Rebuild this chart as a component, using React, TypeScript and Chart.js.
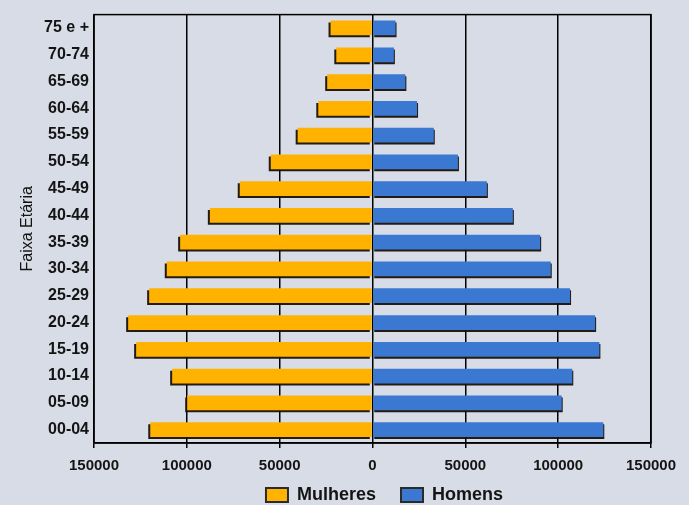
import React, { useEffect, useRef } from "react";
import { Chart, registerables } from "chart.js";

Chart.register(...registerables);

const ageGroups = [
  "75 e +", "70-74", "65-69", "60-64", "55-59", "50-54", "45-49", "40-44",
  "35-39", "30-34", "25-29", "20-24", "15-19", "10-14", "05-09", "00-04",
];
const mulheres = [
  22600, 19500, 24400, 29200, 40300, 54800, 71500, 87600,
  103600, 110800, 120300, 131600, 127300, 107900, 99800, 119700,
];
const homens = [
  12400, 11500, 17700, 24000, 33000, 46000, 61600, 75600,
  90300, 96000, 106400, 119900, 122200, 107600, 101900, 124300,
];
const xMin = -150000;
const xMax = 150000;
const xStep = 50000;

const YELLOW = "#FFB300";
const BLUE = "#3A78D2";
const BG = "#D8DCE6";
const INK = "#141414";

const shadowPlugin = {
  id: "barShadow",
  beforeDatasetDraw(chart: any, args: any) {
    const ctx = chart.ctx;
    ctx.save();
    ctx.shadowColor = "rgba(25,15,5,0.95)";
    ctx.shadowBlur = 0;
    ctx.shadowOffsetX = args.index === 0 ? -2 : 1;
    ctx.shadowOffsetY = 2;
  },
  afterDatasetDraw(chart: any) {
    chart.ctx.restore();
  },
};

const framePlugin = {
  id: "frame",
  afterLayout(chart: any) {
    const lg = chart.legend;
    if (lg) {
      lg.left += 12;
      lg.right += 12;
      lg.top -= 18;
      lg.height = 56;
      lg.bottom = lg.top + 56;
    }
  },
  afterDraw(chart: any) {
    const { ctx, chartArea } = chart;
    ctx.save();
    ctx.strokeStyle = "#000";
    ctx.lineWidth = 1.5;
    ctx.strokeRect(chartArea.left, chartArea.top, chartArea.right - chartArea.left, chartArea.bottom - chartArea.top);
    ctx.restore();
  },
};

export default function App() {
  const ref = useRef<HTMLCanvasElement | null>(null);

  useEffect(() => {
    if (!ref.current) return;
    const chart = new Chart(ref.current, {
      type: "bar",
      data: {
        labels: ageGroups,
        datasets: [
          {
            label: "Mulheres",
            data: mulheres.map((v) => -v),
            backgroundColor: YELLOW,
            borderWidth: 0,
            categoryPercentage: 1,
            barPercentage: 0.55,
          },
          {
            label: "Homens",
            data: homens,
            backgroundColor: BLUE,
            borderWidth: 0,
            categoryPercentage: 1,
            barPercentage: 0.55,
          },
        ],
      },
      options: {
        indexAxis: "y",
        animation: false,
        responsive: false,
        maintainAspectRatio: false,
        layout: { padding: { top: 12, right: 38, left: 0, bottom: 0 } },
        scales: {
          x: {
            type: "linear",
            stacked: true,
            min: xMin,
            max: xMax,
            z: 1,
            grid: {
              color: "#000",
              lineWidth: 1.5,
              drawTicks: true,
              tickLength: 5,
              tickColor: "#000",
            },
            border: { display: true, color: "#000", width: 1.5 },
            ticks: {
              stepSize: xStep,
              padding: 9,
              color: INK,
              font: { family: "'Liberation Sans', Arial, sans-serif", size: 15, weight: "bold" },
              callback: (v: any) => String(Math.abs(Number(v))),
            },
            afterFit(scale: any) {
              scale.height = 36;
            },
          },
          y: {
            stacked: true,
            grid: { display: false, drawTicks: false },
            border: { display: false },
            ticks: {
              padding: 5,
              color: INK,
              font: { family: "'Liberation Sans', Arial, sans-serif", size: 16, weight: "bold" },
            },
            title: {
              display: true,
              text: "Faixa Etária",
              color: INK,
              padding: { top: 18, bottom: 0 },
              font: { family: "'Liberation Sans', Arial, sans-serif", size: 16, weight: "normal" },
            },
            afterFit(scale: any) {
              scale.width = 94;
            },
          },
        },
        plugins: {
          tooltip: { enabled: false },
          legend: {
            position: "bottom",
            fullSize: false,
            maxHeight: 26,
            labels: {
              boxWidth: 22,
              boxHeight: 14,
              padding: 25,
              color: INK,
              font: { family: "'Liberation Sans', Arial, sans-serif", size: 18, weight: "bold" },
              generateLabels(c: any) {
                const items = Chart.defaults.plugins.legend.labels.generateLabels(c);
                return items.map((it: any) => ({ ...it, strokeStyle: "#2a2a2a", lineWidth: 2 }));
              },
            },
          },
        },
      },
      plugins: [shadowPlugin, framePlugin],
    } as any);
    return () => chart.destroy();
  }, []);

  return (
    <div style={{ position: "fixed", left: 0, top: 0, width: 689, height: 505, background: BG }}>
      <canvas ref={ref} width={689} height={505} style={{ display: "block", width: 689, height: 505 }} />
    </div>
  );
}
